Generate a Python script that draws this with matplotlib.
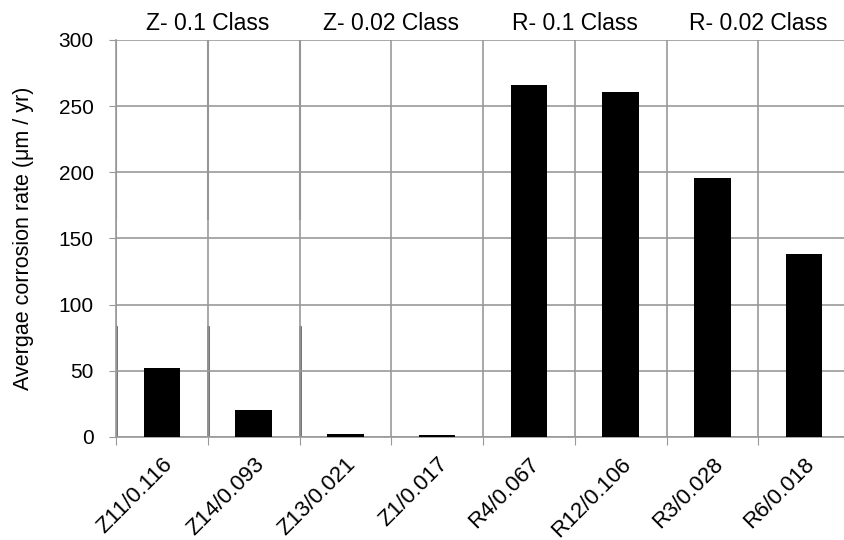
import matplotlib
matplotlib.use("Agg")
import matplotlib.pyplot as plt
import numpy as np

plt.rcParams['font.family'] = ['Liberation Sans', 'DejaVu Sans']

categories = ["Z11/0.116", "Z14/0.093", "Z13/0.021", "Z1/0.017",
              "R4/0.067", "R12/0.106", "R3/0.028", "R6/0.018"]
values = [52, 20.5, 2.5, 1.5, 266, 261, 196, 138]
group_labels = ["Z- 0.1 Class", "Z- 0.02 Class", "R- 0.1 Class", "R- 0.02 Class"]
yticks = [0, 50, 100, 150, 200, 250, 300]

fig = plt.figure(figsize=(8.44, 5.40), dpi=100)
ax = fig.add_axes([116/844, 1-437/540, (850-116)/844, (437-40)/540])

n = len(categories)
x = np.arange(n) + 0.5
ax.bar(x, values, width=0.4, color='black', zorder=3)

ax.set_xlim(0, n)
ax.set_ylim(0, 300)
ax.set_yticks(yticks)
ax.set_yticklabels([str(t) for t in yticks], fontsize=15)

# category boundaries as ticks and gridlines
ax.set_xticks(np.arange(n + 1))
ax.set_xticklabels([])
ax.set_xticks(x, minor=True)
ax.set_xticklabels(categories, minor=True, rotation=45, ha='right', va='top',
                   rotation_mode='anchor', fontsize=16)
ax.tick_params(axis='x', which='minor', length=0, pad=12)
ax.tick_params(axis='x', which='major', length=6, color='#999999', direction='out')
ax.tick_params(axis='y', length=5, color='#999999', direction='out', pad=11)

ax.grid(True, which='major', axis='both', color='#999999', linewidth=1.2, zorder=0)

for s in ['top', 'right']:
    ax.spines[s].set_visible(False)
ax.spines['left'].set_color('#999999')
ax.spines['bottom'].set_color('#999999')
ax.spines['left'].set_linewidth(1.2)
ax.spines['bottom'].set_linewidth(1.2)

# darker line segments on the first boundaries
for b in [0, 1, 2]:
    ax.axvline(b, ymin=0.0, ymax=0.277, color='#666666', linewidth=2, zorder=1)
    ax.axvline(b, ymin=0.55, ymax=1.0, color='#8a8a8a', linewidth=1.5, zorder=1)

ax.set_ylabel("Avergae corrosion rate (μm / yr)", fontsize=15.5, labelpad=18)

for i, g in enumerate(group_labels):
    ax.text(2 * i + 1, 1.012, g, transform=ax.get_xaxis_transform(),
            ha='center', va='bottom', fontsize=16.5)

fig.savefig("out.png", dpi=100)
